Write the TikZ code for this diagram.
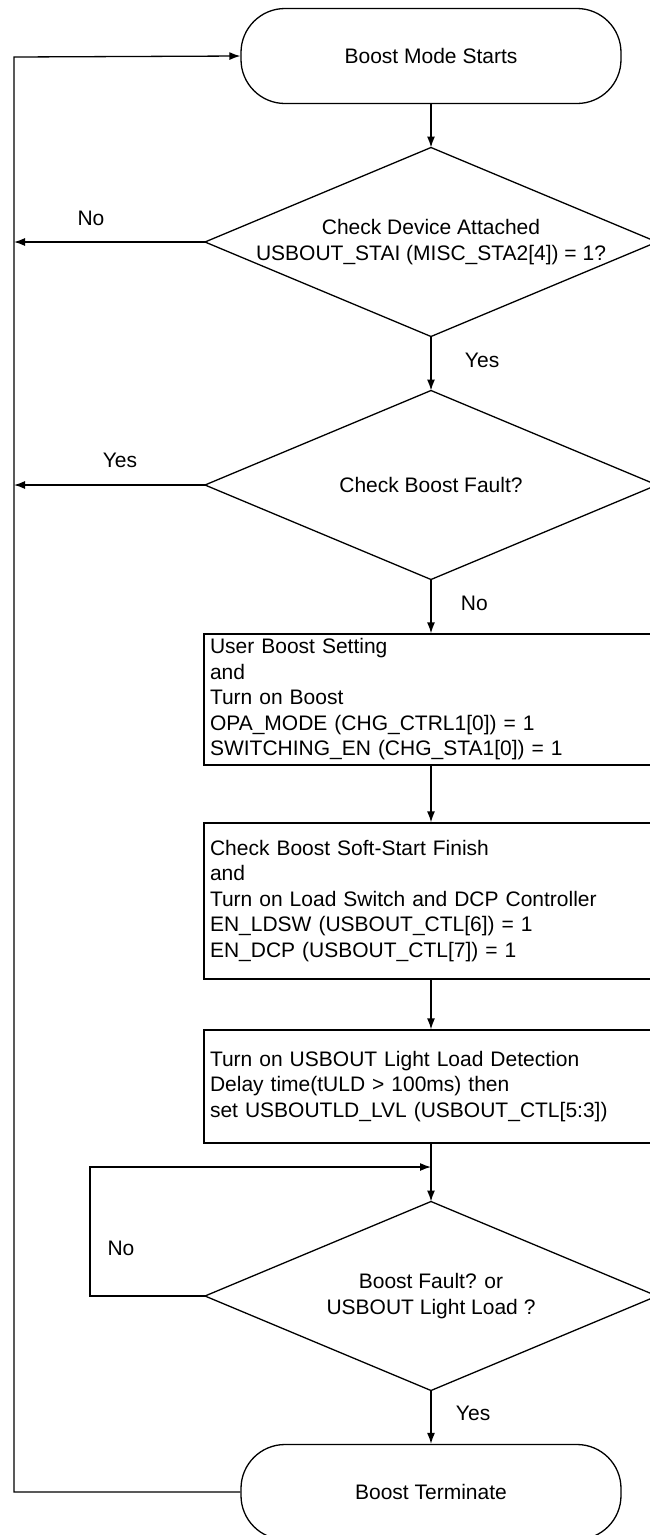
\documentclass[tikz,border=0pt]{standalone}
\usepackage{fontspec}
\setmainfont{Liberation Sans}
\usetikzlibrary{arrows.meta,shapes.geometric}

\begin{document}
\begin{tikzpicture}[x=1pt, y=-1pt, line width=1.3pt,
  every node/.style={font=\fontsize{21}{25.5}\selectfont},
  terminal/.style={draw, rectangle, rounded corners=44pt, minimum width=380pt, minimum height=95pt},
  decision/.style={draw, diamond, minimum width=452pt, minimum height=189pt, inner sep=0pt, outer sep=0pt},
  process/.style={draw, rectangle, text width=442pt, inner xsep=6pt, inner ysep=0pt, align=left},
  arr/.style={-{Latex[length=11pt,width=8pt]}}]

\useasboundingbox (0,0) rectangle (650,1535);

% left return line and loop corner
\coordinate (busTop) at (14,57);
\coordinate (loopTop) at (90,1167);

% Boost Mode Starts
\node[terminal] (start) at (431,56) {Boost Mode Starts};

% Check Device Attached
\node[decision] (devchk) at (431,242) {};
\node[align=center] (devchkText) at (devchk) {Check Device Attached\\USBOUT\_STAI (MISC\_STA2[4]) = 1?};

% Check Boost Fault
\node[decision] (fault) at (431,485) {};
\node (faultText) at (fault) {Check Boost Fault?};

% User Boost Setting
\node[process, minimum height=131pt] (setup) at (431,699.5) {User Boost Setting\\and\\Turn on Boost\\OPA\_MODE (CHG\_CTRL1[0]) = 1\\SWITCHING\_EN (CHG\_STA1[0]) = 1};

% Soft-Start Finish
\node[process, minimum height=156pt] (softst) at (431,901) {Check Boost Soft-Start Finish\\and\\Turn on Load Switch and DCP Controller\\EN\_LDSW (USBOUT\_CTL[6]) = 1\\EN\_DCP (USBOUT\_CTL[7]) = 1};

% Light Load Detection
\node[process, minimum height=113pt] (lightld) at (431,1086.5) {Turn on USBOUT Light Load Detection\\Delay time(tULD > 100ms) then\\set USBOUTLD\_LVL (USBOUT\_CTL[5:3])};

% Boost Fault or Light Load
\node[decision] (stop) at (431,1296) {};
\node[align=center] (stopText) at (stop) {Boost Fault? or\\USBOUT Light Load ?};

% Boost Terminate
\node[terminal] (term) at (431,1492) {Boost Terminate};

% main flow
\draw[arr] (start.south) -- (devchk.north);
\draw[arr] (devchk.south) -- (fault.north);
\node[anchor=west] (yesDev) at (461,360) {Yes};
\draw[arr] (fault.south) -- (setup.north);
\node[anchor=west] (noFault) at (457,603) {No};
\draw[arr] (setup.south) -- (softst.north);
\draw[arr] (softst.south) -- (lightld.north);
\draw[arr] (lightld.south) -- (stop.north);
\draw[arr] (stop.south) -- (term.north);
\node[anchor=west] (yesStop) at (452,1413) {Yes};

% back to start
\draw[arr] (devchk.west) -- (devchk.west -| busTop);
\node (noDev) at (91,218) {No};
\draw[arr] (fault.west) -- (fault.west -| busTop);
\node (yesFault) at (120,460) {Yes};
\draw[arr] (term.west) -| (busTop) -- (start.west);

% wait loop
\draw[arr] (stop.west) -| (loopTop) -- (loopTop -| stop.north);
\node (noStop) at (121,1248) {No};

\end{tikzpicture}
\end{document}
